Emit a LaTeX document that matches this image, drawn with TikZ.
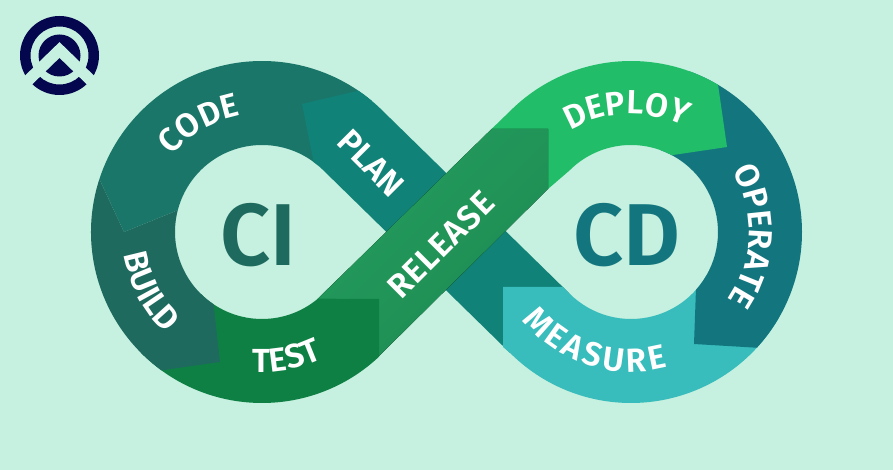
\documentclass[tikz,border=0pt]{standalone}
\usepackage{fontspec}
\setmainfont{Fira Sans}[BoldFont=* SemiBold]
\usepackage{tikz}
\usetikzlibrary{calc}
\usetikzlibrary{decorations.text}
\definecolor{bgmint}{HTML}{C6F0DF}
\definecolor{navy}{HTML}{04064E}
\definecolor{codecol}{HTML}{1B766A}
\definecolor{buildcol}{HTML}{1E6A5F}
\definecolor{testcol}{HTML}{0F8044}
\definecolor{planecol}{HTML}{108278}
\definecolor{releasecol}{HTML}{239C5E}
\definecolor{releasedark}{HTML}{1F8C52}
\definecolor{deploycol}{HTML}{22BD68}
\definecolor{operatecol}{HTML}{13767F}
\definecolor{measurecol}{HTML}{38BCBC}
\newcommand{\lblfont}{\fontsize{19pt}{21pt}\selectfont\bfseries\color{white}}
\newcommand{\gp}{\kern1.9pt}
\tikzset{
  ringlabel/.style={decorate, decoration={text along path, text align=center, text={|\lblfont|#1}}},
  bandlabel/.style={text=white, font=\fontsize{19pt}{21pt}\selectfont\bfseries, inner sep=0pt},
  biglabel/.style={font=\fontsize{50pt}{54pt}\selectfont\bfseries, inner sep=0pt}
}
\begin{document}
\begin{tikzpicture}[x=0.02cm, y=0.02cm]
\fill[bgmint] (0,0) rectangle (893,470);
\useasboundingbox (0,0) rectangle (893,470);
\coordinate (cl) at (262,238);
\coordinate (cr) at (631,238);
\coordinate (lg) at (59.5,414.5);
%
% logo
\fill[navy, even odd rule] (lg) circle (39.5) (lg) circle (29);
\fill[navy] (lg) circle (21);
\draw[bgmint, line width=0.226cm, miter limit=10] ($(lg)+(-50,-43)$) -- ($(lg)+(0,5.5)$) -- ($(lg)+(50,-43)$);
%
% left ring
\fill[codecol] ($(cl)+(162:171)$) arc[start angle=162, end angle=50, radius=171] -- ($(cl)+(50:87)$) arc[start angle=50, end angle=165.5, radius=87] -- (124,238) -- cycle;
%
% falling band
\fill[planecol] (302,366) -- ($(cl)+(55.7:171)$) arc[start angle=55.7, end angle=45, radius=171] -- ($(cr)+(225:87)$) -- ($(cr)+(225:171)$) -- ($(cl)+(45:87)$) arc[start angle=45, end angle=53.6, radius=87] -- cycle;
\fill[measurecol] (503,183) -- (563,183) -- ($(cr)+(225:87)$) arc[start angle=225, end angle=330, radius=87] -- ($(cr)+(330:171)$) arc[start angle=330, end angle=225, radius=171] -- (503,123) -- cycle;
%
% right ring
\fill[operatecol] ($(cr)+(70:171)$) arc[start angle=70, end angle=-42.6, radius=171] -- (694,126) -- ($(cr)+(-41.7:87)$) arc[start angle=-41.7, end angle=70, radius=87] -- cycle;
\fill[deploycol] ($(cr)+(135:171)$) arc[start angle=135, end angle=59.4, radius=171] -- (727,323) -- ($(cr)+(62:87)$) arc[start angle=62, end angle=135, radius=87] -- (548,281) -- (548,341) -- (491.6,341) -- cycle;
%
% rising band
\fill[left color=releasecol, right color=releasedark, shading angle=45] (317.5,171) -- (491.6,341) -- (548,341) -- (548,281) -- (379,114) -- cycle;
\fill[testcol] ($(cl)+(225:87)$) arc[start angle=225, end angle=310, radius=87] -- (379,171) -- (379,114) -- ($(cl)+(-46.7:171)$) arc[start angle=-46.7, end angle=-135, radius=171] -- cycle;
\fill[buildcol] ($(cl)+(234:171)$) arc[start angle=234, end angle=162, radius=171] -- (124,238) -- ($(cl)+(165.5:87)$) arc[start angle=165.5, end angle=236.1, radius=87] -- (220,108) -- cycle;
%
% labels
\path[ringlabel={CODE}] ($(cl)+(165:118)$) arc[start angle=165, end angle=75, radius=118];
\path[ringlabel={BUILD}] ($(cl)+(163:140)$) arc[start angle=163, end angle=253, radius=140];
\path[ringlabel={TEST}] ($(cl)+(236:140)$) arc[start angle=236, end angle=326, radius=140];
\path[ringlabel={DEPLOY}] ($(cr)+(137:118)$) arc[start angle=137, end angle=47, radius=118];
\path[ringlabel={OPERATE}] ($(cr)+(43:118)$) arc[start angle=43, end angle=-47, radius=118];
\path[ringlabel={M{\gp}E{\gp}A{\gp}S{\gp}U{\gp}R{\gp}E}] ($(cr)+(207:140)$) arc[start angle=207, end angle=297, radius=140];
\node[bandlabel, rotate=-45] (plan) at (371,307) {PLAN};
\node[bandlabel, rotate=45] (release) at (441,225) {\addfontfeature{LetterSpace=3}RELEASE};
\node[biglabel, text=buildcol] (ci) at (258,235) {CI};
\node[biglabel, text=operatecol] (cd) at (627,235) {CD};
\end{tikzpicture}
\end{document}
